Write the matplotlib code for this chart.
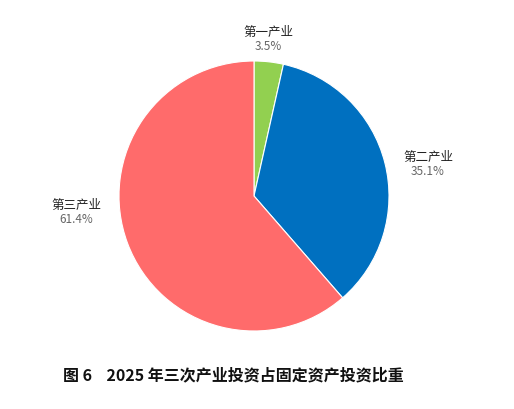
import matplotlib
matplotlib.use("Agg")
import matplotlib.pyplot as plt

# data
sectors = ["第一产业", "第二产业", "第三产业"]
shares = [3.5, 35.1, 61.4]
colors = ["#92d050", "#0070c0", "#ff6b6b"]
title = "图 6    2025 年三次产业投资占固定资产投资比重"

plt.rcParams["font.family"] = ["Noto Sans CJK SC", "DejaVu Sans"]

W, H = 514, 410
fig = plt.figure(figsize=(W / 100, H / 100), dpi=100)

# pie centre (254, 197) px, radius 135 px
cx, cy, r = 254, 197, 135
ax = fig.add_axes([(cx - r) / W, (H - cy - r) / H, 2 * r / W, 2 * r / H])
ax.pie(shares, colors=colors, startangle=90, counterclock=False,
       wedgeprops=dict(edgecolor="white", linewidth=0.8))
ax.set_xlim(-1, 1)
ax.set_ylim(-1, 1)
ax.set_aspect("equal")
ax.axis("off")

# label positions in pixels (x, y of name line)
label_pos = [(268, 32), (428, 157), (76, 205)]
for name, val, (px, py) in zip(sectors, shares, label_pos):
    fig.text(px / W, 1 - py / H, name, ha="center", va="center",
             fontsize=9, color="#222222", fontweight="medium")
    fig.text(px / W, 1 - (py + 15) / H, f"{val:.1f}%", ha="center", va="center",
             fontsize=8.5, color="#666666")

fig.text(233 / W, 1 - 375 / H, title, ha="center", va="center",
         fontsize=11.5, fontweight="bold", color="#111111")

fig.savefig("out.png", dpi=100)
